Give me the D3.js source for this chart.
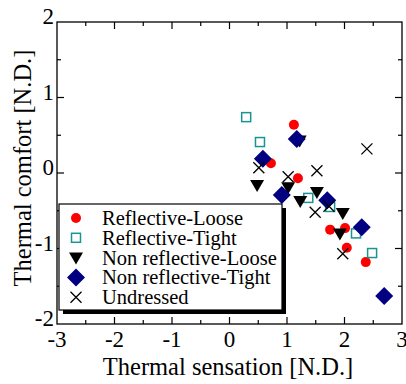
<!DOCTYPE html>
<html>
<head>
<meta charset="utf-8">
<script src="https://cdn.jsdelivr.net/npm/d3@7"></script>
<style>
  body { margin: 0; background: #fff; }
</style>
</head>
<body>
<svg id="chart"></svg>
<script>
(function chart() {
  // values
  const reflectiveLoose = [
    [1.12, 0.64], [0.72, 0.13], [1.19, -0.07], [1.75, -0.75],
    [2.01, -0.73], [2.04, -0.99], [2.37, -1.18],
  ];
  const reflectiveTight = [
    [0.29, 0.74], [0.53, 0.41], [1.37, -0.33], [1.75, -0.45],
    [2.2, -0.8], [2.48, -1.06],
  ];
  const nonReflectiveLoose = [
    [1.22, 0.43], [0.48, -0.16], [1.02, -0.19], [1.23, -0.37], [1.52, -0.25],
    [1.97, -0.53], [1.92, -0.8],
  ];
  const nonReflectiveTight = [
    [0.58, 0.19], [1.17, 0.45], [0.91, -0.29], [1.7, -0.36],
    [2.3, -0.72], [2.69, -1.63],
  ];
  const undressed = [
    [0.51, 0.07], [1.02, -0.05], [1.52, 0.03], [2.39, 0.32],
    [1.49, -0.52], [1.73, -0.44], [1.97, -1.07],
  ];

  const xTicks = [-3, -2, -1, 0, 1, 2, 3];
  const yTicks = [-2, -1, 0, 1, 2];
  const xTitle = "Thermal sensation [N.D.]";
  const yTitle = "Thermal comfort [N.D.]";

  const series = [
    { name: "Reflective-Loose", data: reflectiveLoose, type: "circle" },
    { name: "Reflective-Tight", data: reflectiveTight, type: "square" },
    { name: "Non reflective-Loose", data: nonReflectiveLoose, type: "triangle" },
    { name: "Non reflective-Tight", data: nonReflectiveTight, type: "diamond" },
    { name: "Undressed", data: undressed, type: "cross" },
  ];

  const W = 406, H = 384;
  const m = { left: 57, right: 4, top: 22, bottom: 60 };
  const serif = "'Liberation Serif', 'Times New Roman', Times, serif";

  const svg = d3.select("#chart").attr("width", W).attr("height", H)
    .attr("font-family", serif);

  const x = d3.scaleLinear().domain([-3, 3]).range([m.left, W - m.right]);
  const y = d3.scaleLinear().domain([-2, 2]).range([H - m.bottom, m.top]);

  // frame
  svg.append("rect")
    .attr("x", x(-3)).attr("y", y(2))
    .attr("width", x(3) - x(-3)).attr("height", y(-2) - y(2))
    .attr("fill", "none").attr("stroke", "#000").attr("stroke-width", 1.3);

  // inward ticks on all four sides
  const minorX = d3.range(-2.5, 3, 1);
  const minorY = d3.range(-1.5, 2, 1);
  const tickG = svg.append("g").attr("stroke", "#000").attr("stroke-width", 1.2);
  const addX = (vals, len) => vals.forEach((v) => {
    tickG.append("line").attr("x1", x(v)).attr("x2", x(v)).attr("y1", y(-2)).attr("y2", y(-2) - len);
    tickG.append("line").attr("x1", x(v)).attr("x2", x(v)).attr("y1", y(2)).attr("y2", y(2) + len);
  });
  const addY = (vals, len) => vals.forEach((v) => {
    tickG.append("line").attr("y1", y(v)).attr("y2", y(v)).attr("x1", x(-3)).attr("x2", x(-3) + len);
    tickG.append("line").attr("y1", y(v)).attr("y2", y(v)).attr("x1", x(3)).attr("x2", x(3) - len);
  });
  addX(xTicks.slice(1, -1), 7);
  addX(minorX, 4);
  addY(yTicks.slice(1, -1), 7);
  addY(minorY, 4);

  // tick labels
  svg.append("g").selectAll("text").data(xTicks).join("text")
    .attr("x", (d) => x(d)).attr("y", y(-2) + 23)
    .attr("text-anchor", "middle").attr("font-size", 23)
    .text((d) => d);
  svg.append("g").selectAll("text").data(yTicks).join("text")
    .attr("x", x(-3) - 3).attr("y", (d) => y(d) + 2)
    .attr("text-anchor", "end").attr("font-size", 23)
    .text((d) => d);

  // axis titles
  svg.append("text")
    .attr("x", 228).attr("y", 375)
    .attr("text-anchor", "middle").attr("font-size", 24.5)
    .text(xTitle);
  svg.append("text")
    .attr("transform", "translate(31, 168) rotate(-90)")
    .attr("text-anchor", "middle").attr("font-size", 24.5)
    .text(yTitle);

  // marker drawing
  function marker(g, type) {
    if (type === "circle") {
      g.append("circle").attr("r", 5).attr("fill", "#ff0000");
    } else if (type === "square") {
      g.append("rect").attr("x", -4.5).attr("y", -4.5).attr("width", 9).attr("height", 9)
        .attr("fill", "none").attr("stroke", "#1a9393").attr("stroke-width", 1.5);
    } else if (type === "triangle") {
      g.append("path").attr("d", "M-7,-5L7,-5L0,7Z").attr("fill", "#000");
    } else if (type === "diamond") {
      g.append("path").attr("d", "M0,-9L9,0L0,9L-9,0Z").attr("fill", "#000080");
    } else {
      g.append("path").attr("d", "M-5.5,-5.5L5.5,5.5M-5.5,5.5L5.5,-5.5")
        .attr("stroke", "#000").attr("stroke-width", 1.3).attr("fill", "none");
    }
  }

  series.forEach((s) => {
    svg.append("g").selectAll("g").data(s.data).join("g")
      .attr("transform", (d) => `translate(${x(d[0])},${y(d[1])})`)
      .each(function () { marker(d3.select(this), s.type); });
  });

  // legend with drop shadow
  const lg = svg.append("g");
  const lx = 59, ly = 204, lw = 223, lh = 106;
  lg.append("rect").attr("x", lx + 4).attr("y", ly + 4).attr("width", lw).attr("height", lh).attr("fill", "#000");
  lg.append("rect").attr("x", lx).attr("y", ly).attr("width", lw).attr("height", lh)
    .attr("fill", "#fff").attr("stroke", "#000").attr("stroke-width", 1.2);
  series.forEach((s, i) => {
    const cy = 218 + i * 19.8;
    const g = lg.append("g").attr("transform", `translate(76, ${cy})`);
    marker(g, s.type);
    lg.append("text").attr("x", 102).attr("y", cy + 7)
      .attr("font-size", 20.5).text(s.name);
  });
})();
</script>
</body>
</html>
